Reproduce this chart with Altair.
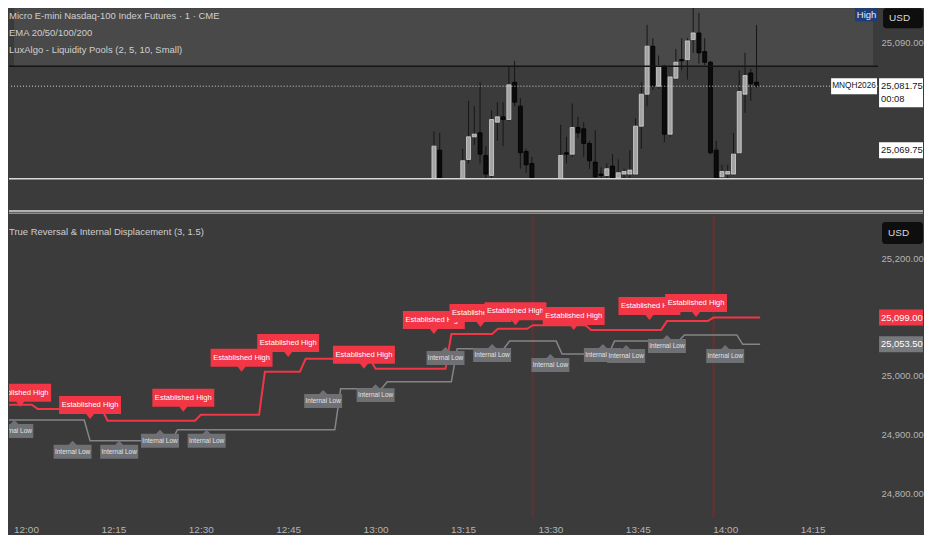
import altair as alt
import pandas as pd

# ---------------- data ----------------
# 1-minute MNQ candles that reach into the upper pane
candle_time = ["13:10", "13:11", "13:15", "13:16", "13:17", "13:18", "13:19", "13:20",
               "13:21", "13:22", "13:23", "13:24", "13:25", "13:26", "13:27", "13:32",
               "13:33", "13:34", "13:35", "13:36", "13:37", "13:38", "13:39", "13:40",
               "13:41", "13:42", "13:43", "13:44", "13:45", "13:46", "13:47", "13:48",
               "13:49", "13:50", "13:51", "13:52", "13:53", "13:54", "13:55", "13:56",
               "13:57", "13:58", "13:59", "14:00", "14:01", "14:02", "14:03", "14:04",
               "14:05", "14:06"]
candle_open = [25062, 25069.75, 25060, 25068, 25072.25, 25073, 25068.75, 25065, 25075, 25076,
               25075.5, 25082.5, 25078, 25069.5, 25067.25, 25062, 25069.25, 25069, 25074, 25073.75,
               25071, 25067.5, 25065.25, 25065, 25066.75, 25064.5, 25065.25, 25065.25, 25065.25, 25074.25,
               25080.25, 25089.25, 25081.75, 25085.5, 25072.75, 25083.25, 25086.75, 25086.75, 25090.5, 25091.75,
               25088.25, 25086.25, 25069.75, 25064.75, 25065.25, 25065.25, 25069.25, 25080.25, 25084.25, 25082.5]
candle_high = [25073.25, 25073, 25070, 25079, 25078, 25082.5, 25070.5, 25077.25, 25078.75, 25078.75,
               25085.5, 25086.5, 25079.5, 25070, 25068.5, 25074.5, 25072.25, 25078.5, 25076, 25075,
               25071.5, 25073.5, 25066.5, 25067.25, 25069, 25068, 25066.25, 25069.75, 25075.75, 25082.5,
               25093.25, 25090.75, 25087.5, 25085.75, 25083.75, 25088.75, 25090.75, 25090.75, 25099, 25095.5,
               25090.75, 25086.5, 25071.5, 25067, 25067, 25073, 25084.75, 25088, 25085, 25093.25]
candle_low = [25060, 25058, 25058, 25067.25, 25070.75, 25067.25, 25064, 25064, 25071.5, 25070.5,
              25075.25, 25078, 25066.25, 25065.5, 25061, 25060, 25067.25, 25068.5, 25072, 25068.5,
              25066.25, 25062, 25063, 25064, 25062, 25063, 25064.5, 25064, 25065, 25070,
              25078, 25081, 25081.25, 25071.25, 25072.25, 25083, 25084.75, 25083, 25088, 25086,
              25085.75, 25069, 25061, 25063.5, 25064, 25065, 25069, 25076.75, 25079, 25081.5]
candle_close = [25070.5, 25062, 25067.75, 25072.25, 25072.75, 25069, 25065.25, 25075.5, 25076, 25075.5,
                25082, 25078.75, 25069.25, 25067, 25063, 25068.75, 25069, 25074, 25073, 25071,
                25067.75, 25064.75, 25065, 25066.25, 25063.5, 25065.5, 25065.75, 25066, 25074.25, 25080.25,
                25089.25, 25081.75, 25085.5, 25072.75, 25083.5, 25086.25, 25086.5, 25090.25, 25091.75, 25088,
                25086.25, 25069.25, 25063, 25065.75, 25065.75, 25069, 25080.75, 25083.75, 25082.25, 25081.75]

legend_lines = ["Micro E-mini Nasdaq-100 Index Futures \u00b7 1 \u00b7 CME",
                "EMA 20/50/100/200",
                "LuxAlgo - Liquidity Pools (2, 5, 10, Small)"]
pool_level = 25085.5      # black line, lighter zone above it
pool_top = 25100
pool_low = 25069.75
last_price = 25081.75
countdown = "00:08"
symbol = "MNQH2026"

# lower pane: True Reversal & Internal Displacement
red_time = ["11:55", "12:01", "12:02", "12:13", "12:14", "12:29", "12:30", "12:40", "12:41",
            "12:47", "12:48", "12:59", "13:00", "13:12", "13:13", "13:20", "13:21", "13:26",
            "13:27", "13:36", "13:37", "13:49", "13:50", "13:57", "13:58", "14:06"]
red_level = [24951, 24951, 24944, 24944, 24924, 24924, 24934, 24934, 25007,
             25007, 25029, 25029, 25012, 25012, 25071, 25071, 25080, 25080,
             25086, 25086, 25078, 25078, 25093, 25093, 25099, 25099]
grey_time = ["11:55", "12:10", "12:11", "12:25", "12:26", "12:53", "12:54", "13:01", "13:02",
             "13:13", "13:14", "13:22", "13:23", "13:31", "13:32", "13:40", "13:41", "13:52",
             "13:53", "14:02", "14:03", "14:06"]
grey_level = [24925, 24925, 24890, 24890, 24908.5, 24908.5, 24978, 24978, 24990,
              24990, 25046, 25046, 25059, 25059, 25037, 25037, 25059, 25059,
              25069.5, 25069.5, 25053.5, 25053.5]
high_label_time = ["11:59", "12:11", "12:27", "12:37", "12:45", "12:58", "13:10", "13:18",
                   "13:24", "13:34", "13:47", "13:55"]
high_label_price = [24947.5, 24927, 24939, 25007, 25032, 25012, 25071, 25083,
                    25086, 25078, 25095, 25100]
low_label_time = ["11:58", "12:08", "12:16", "12:23", "12:31", "12:51", "13:00", "13:12",
                  "13:20", "13:30", "13:39", "13:43", "13:50", "14:00"]
low_label_price = [24925, 24890, 24890, 24908.5, 24908.5, 24976, 24986, 25049,
                   25054, 25037, 25054, 25052.5, 25069.5, 25052.5]
marker_time = ["13:27", "13:58"]
high_last = 25099.00
low_last = 25053.50
pane_title = "True Reversal & Internal Displacement (3, 1.5)"

# ---------------- styling ----------------
FONT = "Liberation Sans, Arial, sans-serif"
BG = "#3b3b3b"
RED = "#f23645"
GREY_LBL = "#6f7074"
TXT = "#cfcfcf"
AXIS_TXT = "#b4b4b4"
W = 870
RIGHT = 915          # keep everything inside the page width
X_DOM = [-2.914, 146.23]


def to_min(t):
    h, m = t.split(":")
    return int(h) * 60 + int(m) - 12 * 60


X_SCALE = alt.Scale(domain=X_DOM, nice=False, zero=False)
TOP_SCALE = alt.Scale(domain=[25064.5, 25096.375], nice=False, zero=False)
BOT_SCALE = alt.Scale(domain=[24759.3, 25271.2], nice=False, zero=False)


def price_axis(values):
    return alt.Axis(orient="right", values=values, format=",.2f", title=None, grid=False,
                    domain=False, ticks=False, labelPadding=3, labelColor=AXIS_TXT,
                    labelFontSize=9.5, labelFont=FONT)


top_axis = price_axis([25090])
bot_axis = price_axis([24800, 24900, 25000, 25200])
time_axis = alt.Axis(values=list(range(0, 136, 15)),
                     labelExpr="(12 + floor(datum.value / 60)) + ':' + format(datum.value % 60, '02d')",
                     title=None, grid=False, domain=False, ticks=False, labelPadding=7,
                     labelColor=AXIS_TXT, labelFontSize=10, labelFont=FONT, labelFlush=False)


def xt(f):
    return alt.X(f, type="quantitative", scale=X_SCALE, axis=None)


def yt(f):
    return alt.Y(f, type="quantitative", scale=TOP_SCALE, axis=top_axis)


def xb(f):
    return alt.X(f, type="quantitative", scale=X_SCALE, axis=time_axis)


def yb(f):
    return alt.Y(f, type="quantitative", scale=BOT_SCALE, axis=bot_axis)


def box_path(top, bottom):
    return f"M-1,{top} L1,{top} L1,{bottom} L-1,{bottom} Z"


BOX_X = (W + 1 + RIGHT) / 2      # price tags in the axis gutter, 44 px wide
BOX_SIZE = 44 ** 2
TAG_X = W + 3
TAG_FS = 9.4

# ---------------- upper pane ----------------
candles = pd.DataFrame({"t": [to_min(t) for t in candle_time], "open": candle_open,
                        "high": candle_high, "low": candle_low, "close": candle_close})
up = "datum.close >= datum.open"

zone = alt.Chart(pd.DataFrame({"t0": [X_DOM[0]], "t1": [X_DOM[1]], "lo": [pool_level], "hi": [pool_top]})
                 ).mark_rect(color="#494949", clip=True).encode(x=xt("t0"), x2="t1", y=yt("lo"), y2="hi")
wicks = alt.Chart(candles).mark_rule(color="#161616", strokeWidth=1, clip=True).encode(
    x=xt("t"), y=yt("low"), y2="high")
bodies = alt.Chart(candles).mark_bar(width=4, strokeWidth=0.8, clip=True).encode(
    x=xt("t"), y=yt("open"), y2="close",
    fill=alt.condition(up, alt.value("#a3a3a3"), alt.value("#0b0b0b")),
    stroke=alt.condition(up, alt.value("#d6d6d6"), alt.value("#000000")))
pool_rule = alt.Chart(pd.DataFrame({"p": [pool_level]})).mark_rule(
    color="#141414", strokeWidth=1.5).encode(y=yt("p"))
last_df = pd.DataFrame({"p": [last_price], "txt": [f"{last_price:,.2f}"], "cd": [countdown], "sym": [symbol]})
last_rule = alt.Chart(last_df).mark_rule(color="#d4d4d4", strokeDash=[1, 2], strokeWidth=1).encode(y=yt("p"))
sym_box = alt.Chart(last_df).mark_point(shape=box_path(-0.348, 0.348), size=46 ** 2, filled=True,
                                        opacity=1, color="white", strokeWidth=0).encode(
    x=alt.value(846), y=yt("p"))
sym_txt = alt.Chart(last_df).mark_text(color="#131722", fontSize=8.3, font=FONT).encode(
    x=alt.value(846), y=yt("p"), text="sym:N")
last_box = alt.Chart(last_df).mark_point(shape=box_path(-0.364, 0.955), size=BOX_SIZE, filled=True,
                                         opacity=1, color="white", strokeWidth=0).encode(
    x=alt.value(BOX_X), y=yt("p"))
last_txt = alt.Chart(last_df).mark_text(color="#131722", fontSize=TAG_FS, font=FONT, align="left").encode(
    x=alt.value(TAG_X), y=yt("p"), text="txt:N")
cd_txt = alt.Chart(last_df).mark_text(color="#131722", fontSize=TAG_FS, font=FONT, align="left", dy=13).encode(
    x=alt.value(TAG_X), y=yt("p"), text="cd:N")
low_df = pd.DataFrame({"p": [pool_low], "txt": [f"{pool_low:,.2f}"]})
low_box = alt.Chart(low_df).mark_point(shape=box_path(-0.364, 0.364), size=BOX_SIZE, filled=True,
                                       opacity=1, color="white", strokeWidth=0).encode(
    x=alt.value(BOX_X), y=yt("p"))
low_txt = alt.Chart(low_df).mark_text(color="#131722", fontSize=TAG_FS, font=FONT, align="left").encode(
    x=alt.value(TAG_X), y=yt("p"), text="txt:N")
high_tag = pd.DataFrame({"txt": ["High"]})
high_box = alt.Chart(high_tag).mark_rect(color="#1d3c7a").encode(
    x=alt.value(847), x2=alt.value(870), y=alt.value(0), y2=alt.value(13))
high_txt = alt.Chart(high_tag).mark_text(color="#e8ecf8", fontSize=9.5, font=FONT).encode(
    x=alt.value(858.5), y=alt.value(6.5), text="txt:N")
usd_df = pd.DataFrame({"txt": ["USD"]})
usd_box_t = alt.Chart(usd_df).mark_rect(color="#0e0e0e", cornerRadius=3).encode(
    x=alt.value(875), x2=alt.value(RIGHT), y=alt.value(0), y2=alt.value(20))
usd_txt_t = alt.Chart(usd_df).mark_text(color="#d8d8d8", fontSize=10, font=FONT, align="left").encode(
    x=alt.value(881), y=alt.value(10), text="txt:N")
legend = alt.Chart(pd.DataFrame({"txt": ["\n".join(legend_lines)]})).mark_text(
    color=TXT, fontSize=9.5, font=FONT, align="left", baseline="top", lineBreak="\n", lineHeight=17
).encode(x=alt.value(0), y=alt.value(3), text="txt:N")

top = alt.layer(zone, wicks, bodies, pool_rule, last_rule, sym_box, sym_txt, last_box, last_txt,
                cd_txt, low_box, low_txt, high_box, high_txt, usd_box_t, usd_txt_t, legend
                ).properties(width=W, height=170)

# ---------------- separator strip ----------------
sep = pd.DataFrame({"y": [0.75, 33, 35.25], "c": ["#d9d9d9", "#d9d9d9", "#8c8c8c"]})
strip = alt.Chart(sep).mark_rule(strokeWidth=1.5).encode(
    x=alt.value(0), x2=alt.value(RIGHT), y=alt.Y("y:Q", scale=None), color=alt.Color("c:N", scale=None)
).properties(width=W, height=36)

# ---------------- lower pane ----------------
red_df = pd.DataFrame({"t": [to_min(t) for t in red_time], "p": red_level})
grey_df = pd.DataFrame({"t": [to_min(t) for t in grey_time], "p": grey_level})
markers = alt.Chart(pd.DataFrame({"t": [to_min(t) for t in marker_time]})).mark_rule(
    color="#8a2b32", strokeWidth=3, opacity=0.35).encode(x=xb("t"))
grey_line = alt.Chart(grey_df).mark_line(color="#858585", strokeWidth=1.5, clip=True).encode(
    x=xb("t"), y=yb("p"))
red_line = alt.Chart(red_df).mark_line(color=RED, strokeWidth=2, clip=True).encode(
    x=xb("t"), y=yb("p"))

HI_PATH = "M-1,-0.742 L1,-0.742 L1,-0.161 L0.129,-0.161 L0,0 L-0.129,-0.161 L-1,-0.161 Z"
LO_PATH = "M-1,0.2105 L-0.21,0.2105 L0,0 L0.21,0.2105 L1,0.2105 L1,0.947 L-1,0.947 Z"

lo_df = pd.DataFrame({"t": [to_min(t) for t in low_label_time], "p": low_label_price,
                      "txt": "Internal Low"})
hi_df = pd.DataFrame({"t": [to_min(t) for t in high_label_time], "p": high_label_price,
                      "txt": "Established High"})
label_layers = []
for i in range(len(lo_df)):
    b = alt.Chart(lo_df.iloc[[i]])
    label_layers.append(b.mark_point(shape=LO_PATH, size=38 ** 2, filled=True, opacity=1,
                                     color=GREY_LBL, strokeWidth=0, clip=True).encode(x=xb("t"), y=yb("p")))
    label_layers.append(b.mark_text(dy=11, color="#e2e2e2", fontSize=6.5, font=FONT, clip=True).encode(
        x=xb("t"), y=yb("p"), text="txt:N"))
for i in range(len(hi_df)):
    b = alt.Chart(hi_df.iloc[[i]])
    label_layers.append(b.mark_point(shape=HI_PATH, size=62 ** 2, filled=True, opacity=1,
                                     color=RED, strokeWidth=0, clip=True).encode(x=xb("t"), y=yb("p")))
    label_layers.append(b.mark_text(dy=-14, color="white", fontSize=7.6, font=FONT, clip=True).encode(
        x=xb("t"), y=yb("p"), text="txt:N"))

last_vals = pd.DataFrame({"p": [high_last, low_last], "txt": [f"{high_last:,.2f}", f"{low_last:,.2f}"],
                          "c": [RED, "#77787c"]})
val_box = alt.Chart(last_vals).mark_point(shape=box_path(-0.364, 0.364), size=BOX_SIZE, filled=True,
                                          opacity=1, strokeWidth=0).encode(
    x=alt.value(BOX_X), y=yb("p"), fill=alt.Color("c:N", scale=None))
val_txt = alt.Chart(last_vals).mark_text(color="white", fontSize=TAG_FS, font=FONT, align="left").encode(
    x=alt.value(TAG_X), y=yb("p"), text="txt:N")
title_txt = alt.Chart(pd.DataFrame({"txt": [pane_title]})).mark_text(
    color=TXT, fontSize=9.5, font=FONT, align="left").encode(x=alt.value(0), y=alt.value(16), text="txt:N")
usd_box_b = alt.Chart(usd_df).mark_rect(color="#0e0e0e", cornerRadius=3).encode(
    x=alt.value(874), x2=alt.value(RIGHT), y=alt.value(6), y2=alt.value(28))
usd_txt_b = alt.Chart(usd_df).mark_text(color="#d8d8d8", fontSize=10, font=FONT, align="left").encode(
    x=alt.value(880), y=alt.value(17), text="txt:N")

bottom = alt.layer(markers, grey_line, red_line, *label_layers, val_box, val_txt, title_txt,
                   usd_box_b, usd_txt_b).properties(width=W, height=302)

chart = alt.vconcat(top, strip, bottom, spacing=0).properties(
    padding=0, background=BG
).configure(font=FONT, view=alt.ViewConfig(stroke=None))

chart.save("out.html", embed_options={"renderer": "svg", "actions": False})
